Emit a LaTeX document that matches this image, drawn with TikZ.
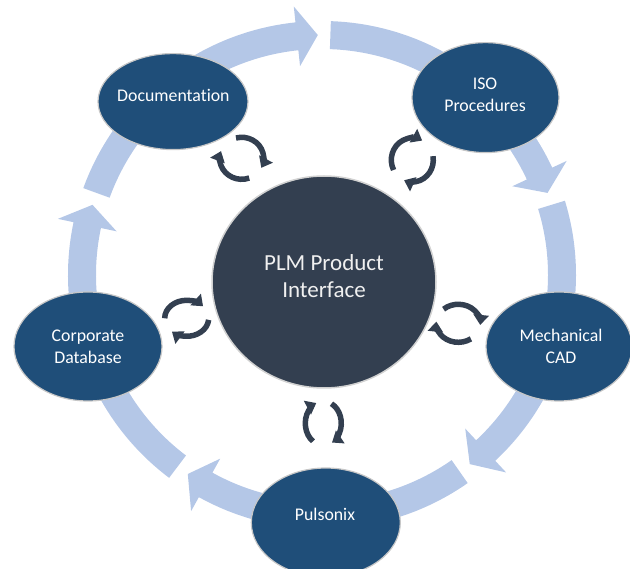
\documentclass[tikz,border=0pt]{standalone}
\usepackage{fontspec}
\setmainfont{Carlito}[Ligatures=NoCommon]
\usetikzlibrary{arrows.meta,calc,shapes.geometric}
\definecolor{ringblue}{HTML}{B4C7E7}
\definecolor{bubble}{HTML}{1F4E79}
\definecolor{hubcol}{HTML}{333F50}
\newcommand\ringseg[2]{%
  \pgfmathsetmacro\segbase{#2+5}%
  \fill[seg] ($(C)+(#1:254)$) arc[start angle=#1, end angle=\segbase, radius=254]
    -- ($(C)+(\segbase:270)$) -- ($(C)+(#2:240)$) -- ($(C)+(\segbase:210)$)
    -- ($(C)+(\segbase:226)$) arc[start angle=\segbase, end angle=#1, radius=226] -- cycle;}
\begin{document}
\begin{tikzpicture}[x=1pt,y=1pt,
  bub/.style={ellipse, fill=bubble, draw=black!22, line width=1.2pt, inner sep=0pt},
  btxt/.style={text=white, align=center, font=\fontsize{17.8}{22}\selectfont, inner sep=0pt},
  ctxt/.style={text=white!94!black, align=center, font=\fontsize{23}{27}\selectfont, inner sep=0pt},
  cyc/.style={draw=hubcol, line width=5.5pt, -{Triangle[width=15pt,length=10pt]}},
  seg/.style={fill=ringblue}]
\useasboundingbox (0,0) rectangle (630,-569);
\clip (0,0) rectangle (630,-569);
\coordinate (C) at (322,-275);
% ring of arrows
\ringseg{160}{91}
\ringseg{88}{20}
\ringseg{17}{-52}
\ringseg{-55}{-124}
\ringseg{-127}{-197}
% bubbles
\node[bub, minimum width=150pt, minimum height=96pt] (doc) at (173,-101.6) {};
\node[bub, minimum width=147pt, minimum height=110pt] (iso) at (485.5,-97.6) {};
\node[bub, minimum width=146pt, minimum height=109pt] (mech) at (559,-346.5) {};
\node[bub, minimum width=148pt, minimum height=109pt] (corp) at (88,-346.5) {};
\node[bub, minimum width=149pt, minimum height=109pt] (puls) at (325.8,-522.5) {};
\node[ellipse, fill=hubcol, draw=black!18, line width=1.5pt, minimum width=224pt, minimum height=212pt] (hub) at (324,-282) {};
% texts
\node[btxt] (doct) at (173.4,-95) {Documentation};
\node[btxt] (isot) at (485,-95) {ISO\\Procedures};
\node[btxt] (mecht) at (561,-346.5) {Mechanical\\CAD};
\node[btxt] (corpt) at (88,-346.5) {Corporate\\Database};
\node[btxt] (pulst) at (325,-514.5) {Pulsonix};
\node[ctxt] (hubt) at (324,-276.5) {PLM Product\\Interface};
% cycle icons
\coordinate (i1) at (241.7,-158.3);
\draw[cyc] ($(i1)+(105:22 and 21)$) arc[start angle=105, end angle=-27, x radius=22, y radius=21];
\draw[cyc] ($(i1)+(-70:22 and 21)$) arc[start angle=-70, end angle=-200, x radius=22, y radius=21];
\coordinate (i2) at (412.3,-160);
\draw[cyc] ($(i2)+(207:21 and 22)$) arc[start angle=207, end angle=62, x radius=21, y radius=22];
\draw[cyc] ($(i2)+(10:21 and 22)$) arc[start angle=10, end angle=-113, x radius=21, y radius=22];
\coordinate (i3) at (186.7,-318.3);
\draw[cyc] ($(i3)+(180:22 and 18)$) arc[start angle=180, end angle=42, x radius=22, y radius=18];
\draw[cyc] ($(i3)+(-5:22 and 18)$) arc[start angle=-5, end angle=-132, x radius=22, y radius=18];
\coordinate (i4) at (458.3,-323.3);
\draw[cyc] ($(i4)+(132:22 and 19)$) arc[start angle=132, end angle=-5, x radius=22, y radius=19];
\draw[cyc] ($(i4)+(-55:22 and 19)$) arc[start angle=-55, end angle=-185, x radius=22, y radius=19];
\coordinate (i5) at (323.3,-423.3);
\draw[cyc] ($(i5)+(235:18 and 22)$) arc[start angle=235, end angle=113, x radius=18, y radius=22];
\draw[cyc] ($(i5)+(63:18 and 22)$) arc[start angle=63, end angle=-61, x radius=18, y radius=22];
\end{tikzpicture}
\end{document}
